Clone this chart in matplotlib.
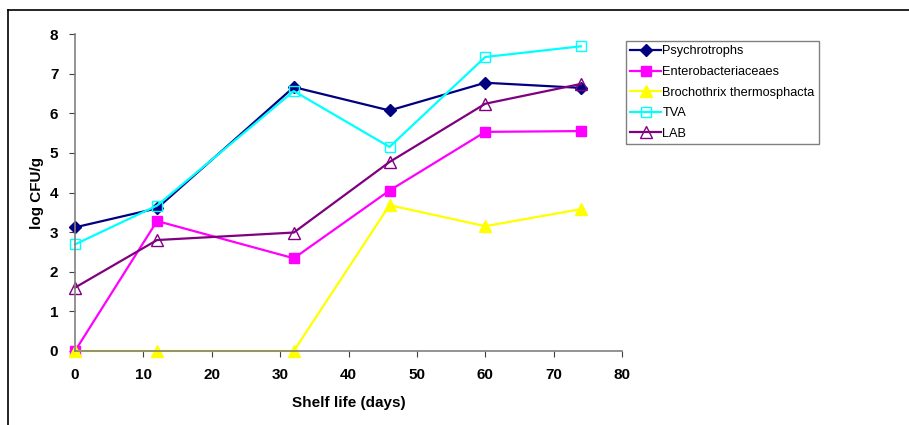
import numpy as np
import matplotlib.pyplot as plt
from matplotlib.lines import Line2D

plt.rcParams['font.family'] = ['Liberation Sans', 'DejaVu Sans']

days = [0, 12, 32, 46, 60, 74]
psychrotrophs = [3.12, 3.60, 6.66, 6.07, 6.77, 6.64]
enterobacteriaceae = [0.0, 3.28, 2.34, 4.05, 5.53, 5.55]
brochothrix = [0.0, 0.0, 0.0, 3.68, 3.15, 3.58]
tva = [2.69, 3.67, 6.56, 5.15, 7.42, 7.69]
lab = [1.60, 2.80, 2.99, 4.77, 6.24, 6.74]

fig = plt.figure(figsize=(9.09, 4.25), dpi=100)
ax = fig.add_axes([75 / 909, 1 - 351 / 425, 547 / 909, 317 / 425])

ms = 7
lw = 1.6
ax.plot(days, psychrotrophs, '-D', color='#000080', lw=lw, ms=ms - 0.5, label='Psychrotrophs', clip_on=False)
ax.plot(days, enterobacteriaceae, '-s', color='#FF00FF', lw=lw, ms=ms, label='Enterobacteriaceaes', clip_on=False)
ax.plot(days, brochothrix, '-^', color='#FFFF00', lw=lw, ms=ms + 1, label='Brochothrix thermosphacta', clip_on=False)
ax.plot(days, tva, '-s', color='#00FFFF', mfc='none', mew=1.0, lw=lw, ms=ms, label='TVA', clip_on=False)
ax.plot(days, lab, '-^', color='#800080', mfc='none', mew=1.0, lw=lw, ms=ms + 1, label='LAB', clip_on=False)

ax.set_xlim(0, 80)
ax.set_ylim(0, 8)
ax.set_xticks(np.arange(0, 81, 10))
ax.set_yticks(np.arange(0, 9, 1))
for s in ['top', 'right']:
    ax.spines[s].set_visible(False)
for s in ['left', 'bottom']:
    ax.spines[s].set_color('#808080')
    ax.spines[s].set_linewidth(1.2)
ax.tick_params(direction='out', length=4, width=0.8, color='#404040',
               labelsize=11, pad=8)
for lbl in ax.get_xticklabels() + ax.get_yticklabels():
    lbl.set_fontweight('bold')

ax.set_xlabel('Shelf life (days)', fontsize=11, fontweight='bold', labelpad=10)
ax.set_ylabel('log CFU/g', fontsize=11, fontweight='bold', labelpad=4)

leg = ax.legend(loc='upper left', bbox_to_anchor=(626 / 909, 1 - 41 / 425),
                bbox_transform=fig.transFigure, frameon=True, fancybox=False,
                fontsize=9.2, handlelength=2.4, handletextpad=0.1,
                borderpad=0.35, labelspacing=0.67, borderaxespad=0)
leg.get_frame().set_edgecolor('#606060')
leg.get_frame().set_linewidth(1.0)

# outer chart frame (left and top edges visible)
fig.add_artist(Line2D([8 / 909, 8 / 909], [0, 1 - 10 / 425], color='black', lw=1.2,
                      transform=fig.transFigure))
fig.add_artist(Line2D([8 / 909, 1], [1 - 10 / 425, 1 - 10 / 425], color='black', lw=1.2,
                      transform=fig.transFigure))

plt.savefig('out.png', dpi=100)
